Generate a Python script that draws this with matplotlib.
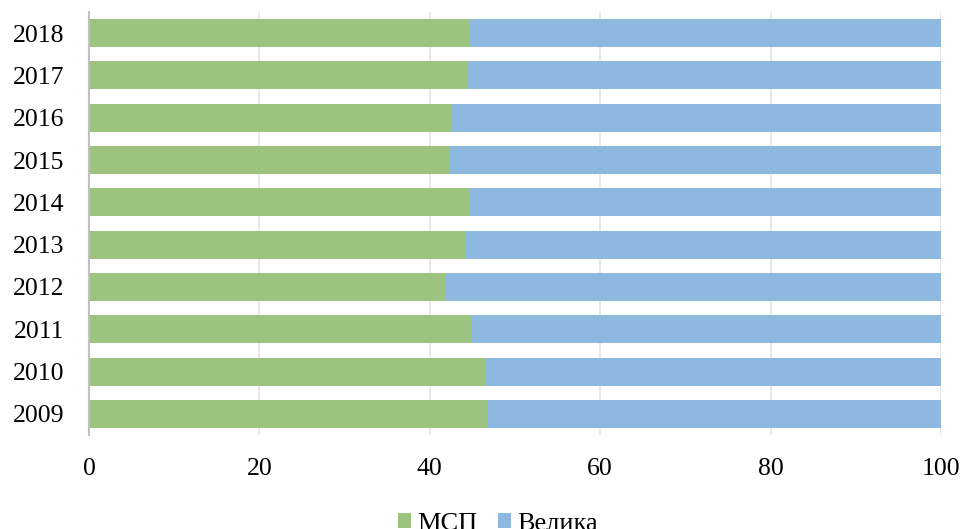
import matplotlib
matplotlib.use('Agg')
from matplotlib import pyplot as plt

years = ['2009', '2010', '2011', '2012', '2013', '2014', '2015', '2016', '2017', '2018']
msp = [46.8, 46.5, 44.8, 41.9, 44.2, 44.6, 42.2, 42.5, 44.5, 44.6]
velyka = [100 - v for v in msp]

green = '#9DC47E'
blue = '#8DB8E0'

plt.rcParams['font.family'] = ['Liberation Serif', 'DejaVu Serif']

fig = plt.figure(figsize=(9.65, 5.29), dpi=100)
ax = fig.add_axes([89/965, 1-435/529, (941-89)/965, (435-12)/529])

ax.barh(years, msp, height=0.66, color=green, label='МСП', zorder=2)
ax.barh(years, velyka, left=msp, height=0.66, color=blue, label='Велика', zorder=2)

ax.set_xlim(0, 100)
ax.set_ylim(-0.5, len(years) - 0.5)
ax.set_xticks(range(0, 101, 20))
ax.grid(axis='x', color='#b0b0b0', alpha=0.35, linewidth=1.2, zorder=3)
ax.grid(axis='y', visible=False)

for s in ['top', 'right', 'bottom']:
    ax.spines[s].set_visible(False)
ax.spines['left'].set_color('#c0c0c0')
ax.spines['left'].set_linewidth(1.5)
ax.spines['left'].set_zorder(4)

ax.tick_params(axis='y', length=0, pad=18, labelsize=18.5)
ax.tick_params(axis='x', length=0, pad=16.5, labelsize=18.5)

fig.legend(loc='center', bbox_to_anchor=(498/965, 1 - 524/529), ncol=2, frameon=False,
           fontsize=19, handlelength=0.5, handleheight=0.5, handletextpad=0.25,
           columnspacing=0.75)

fig.savefig('out.png', dpi=100)
